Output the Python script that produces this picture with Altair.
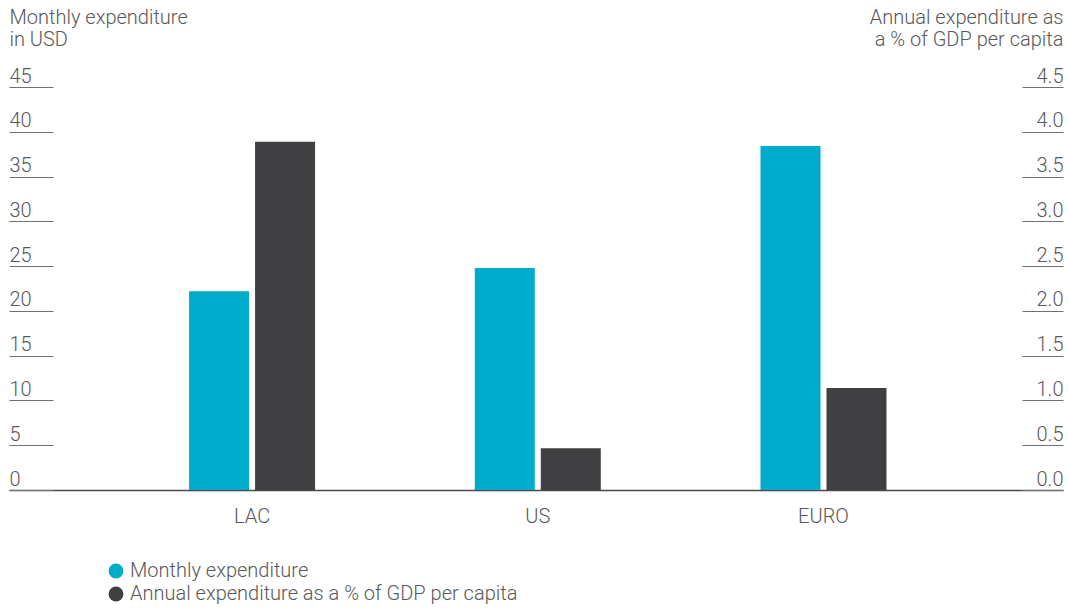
import altair as alt
import pandas as pd

categories = ["LAC", "US", "EURO"]
monthly_usd = [22.2, 24.8, 38.4]
annual_pct_gdp = [3.89, 0.465, 1.14]
series_names = ["Monthly expenditure", "Annual expenditure as a % of GDP per capita"]
left_ticks = [0, 5, 10, 15, 20, 25, 30, 35, 40, 45]
right_ticks = [0.0, 0.5, 1.0, 1.5, 2.0, 2.5, 3.0, 3.5, 4.0, 4.5]
colors = ["#00accb", "#404042"]

rows = []
for c, m, a in zip(categories, monthly_usd, annual_pct_gdp):
    rows.append({"region": c, "series": series_names[0], "value": m})
    rows.append({"region": c, "series": series_names[1], "value": a})
df = pd.DataFrame(rows)

FONT = "Roboto"
TXT = "#585858"
FS = 20

x_enc = alt.X(
    "region:N", sort=categories,
    scale=alt.Scale(paddingInner=0.559, paddingOuter=0.624, align=0.505),
    axis=alt.Axis(title=None, labelAngle=0, ticks=False, domainColor="#4a4a4a",
                  domainWidth=1.5, labelPadding=16, labelFontSize=FS,
                  labelFont=FONT, labelFontWeight=300, labelColor=TXT),
)
xoff_enc = alt.XOffset(
    "series:N", sort=series_names,
    scale=alt.Scale(domain=series_names, paddingInner=0.0909, paddingOuter=0),
)
color_enc = alt.Color(
    "series:N",
    scale=alt.Scale(domain=series_names, range=colors),
    legend=alt.Legend(
        title=None, orient="none", legendX=97, legendY=474, direction="vertical",
        symbolType="circle", symbolSize=220, symbolStrokeWidth=0,
        labelFontSize=FS, labelFont=FONT, labelFontWeight=300, labelColor=TXT,
        labelOffset=4, rowPadding=3, labelLimit=600,
    ),
)

base = alt.Chart(df)

left = base.transform_filter(alt.datum.series == series_names[0]).mark_bar().encode(
    x=x_enc, xOffset=xoff_enc, color=color_enc,
    y=alt.Y("value:Q", scale=alt.Scale(domain=[0, 45], nice=False),
            axis=alt.Axis(orient="left", values=left_ticks, format="d", offset=-44,
                          tickSize=44, tickColor="#707070", tickWidth=1.2,
                          domain=False, grid=False, labelAlign="left", labelPadding=0,
                          labelBaseline="alphabetic", labelOffset=-5, labelFontSize=FS,
                          labelFont=FONT, labelFontWeight=300, labelColor=TXT,
                          title=["Monthly expenditure", "in USD"], titleAngle=0,
                          titleAlign="left", titleBaseline="top", titleX=-44, titleY=-80,
                          titleFontSize=FS, titleFont=FONT, titleFontWeight=300,
                          titleColor=TXT, titleLineHeight=22)),
)

right = base.transform_filter(alt.datum.series == series_names[1]).mark_bar().encode(
    x=x_enc, xOffset=xoff_enc, color=color_enc,
    y=alt.Y("value:Q", scale=alt.Scale(domain=[0, 4.5], nice=False),
            axis=alt.Axis(orient="right", values=right_ticks, format=".1f", offset=-41,
                          tickSize=41, tickColor="#707070", tickWidth=1.2,
                          domain=False, grid=False, labelAlign="right", labelPadding=0,
                          labelBaseline="alphabetic", labelOffset=-5, labelFontSize=FS,
                          labelFont=FONT, labelFontWeight=300, labelColor=TXT,
                          title=["Annual expenditure as", "a % of GDP per capita"],
                          titleAngle=0, titleAlign="right", titleBaseline="top",
                          titleX=41, titleY=-80, titleFontSize=FS, titleFont=FONT,
                          titleFontWeight=300, titleColor=TXT, titleLineHeight=22)),
)

chart = alt.layer(left, right).resolve_scale(y="independent").properties(
    width=1054, height=403,
    padding={"left": 9, "top": 87, "right": 5, "bottom": 118},
    autosize=alt.AutoSizeParams(type="none"),
    background="white",
).configure_view(stroke=None)

chart.save("out.html", embed_options={"renderer": "svg", "actions": False})
